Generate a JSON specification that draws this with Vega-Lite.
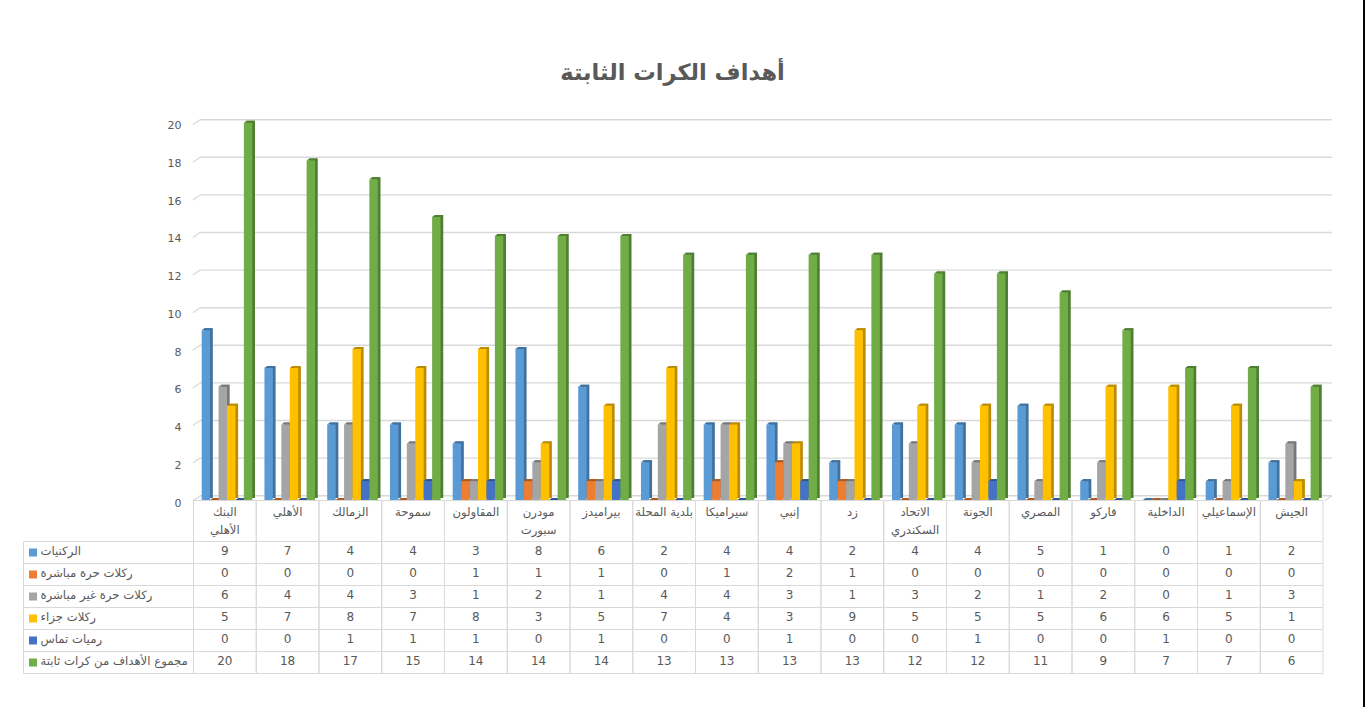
{"$schema":"https://vega.github.io/schema/vega-lite/v6.json","width":1365,"height":707,"padding":0,"autosize":{"type":"none"},"background":"#ffffff","config":{"view":{"stroke":null},"font":"DejaVu Sans"},
"title":{"text":"أهداف الكرات الثابتة","font":"DejaVu Sans","fontSize":22.5,"fontWeight":"bold","color":"#595959","anchor":"middle","frame":"group","dx":-10,"offset":-85},
"datasets":{
"ticks":[{"tick":0},{"tick":2},{"tick":4},{"tick":6},{"tick":8},{"tick":10},{"tick":12},{"tick":14},{"tick":16},{"tick":18},{"tick":20}],
"teams":[{"team":"البنك الأهلي"},{"team":"الأهلي"},{"team":"الزمالك"},{"team":"سموحة"},{"team":"المقاولون"},{"team":"مودرن سبورت"},{"team":"بيراميدز"},{"team":"بلدية المحلة"},{"team":"سيراميكا"},{"team":"إنبي"},{"team":"زد"},{"team":"الاتحاد السكندري"},{"team":"الجونة"},{"team":"المصري"},{"team":"فاركو"},{"team":"الداخلية"},{"team":"الإسماعيلي"},{"team":"الجيش"}],
"types":[{"type":"الركنيات"},{"type":"ركلات حرة مباشرة"},{"type":"ركلات حرة غير مباشرة"},{"type":"ركلات جزاء"},{"type":"رميات تماس"},{"type":"مجموع الأهداف من كرات ثابتة"}],
"goals":[
{"team":"البنك الأهلي","type":"الركنيات","goals":9},{"team":"البنك الأهلي","type":"ركلات حرة مباشرة","goals":0},{"team":"البنك الأهلي","type":"ركلات حرة غير مباشرة","goals":6},{"team":"البنك الأهلي","type":"ركلات جزاء","goals":5},{"team":"البنك الأهلي","type":"رميات تماس","goals":0},{"team":"البنك الأهلي","type":"مجموع الأهداف من كرات ثابتة","goals":20},
{"team":"الأهلي","type":"الركنيات","goals":7},{"team":"الأهلي","type":"ركلات حرة مباشرة","goals":0},{"team":"الأهلي","type":"ركلات حرة غير مباشرة","goals":4},{"team":"الأهلي","type":"ركلات جزاء","goals":7},{"team":"الأهلي","type":"رميات تماس","goals":0},{"team":"الأهلي","type":"مجموع الأهداف من كرات ثابتة","goals":18},
{"team":"الزمالك","type":"الركنيات","goals":4},{"team":"الزمالك","type":"ركلات حرة مباشرة","goals":0},{"team":"الزمالك","type":"ركلات حرة غير مباشرة","goals":4},{"team":"الزمالك","type":"ركلات جزاء","goals":8},{"team":"الزمالك","type":"رميات تماس","goals":1},{"team":"الزمالك","type":"مجموع الأهداف من كرات ثابتة","goals":17},
{"team":"سموحة","type":"الركنيات","goals":4},{"team":"سموحة","type":"ركلات حرة مباشرة","goals":0},{"team":"سموحة","type":"ركلات حرة غير مباشرة","goals":3},{"team":"سموحة","type":"ركلات جزاء","goals":7},{"team":"سموحة","type":"رميات تماس","goals":1},{"team":"سموحة","type":"مجموع الأهداف من كرات ثابتة","goals":15},
{"team":"المقاولون","type":"الركنيات","goals":3},{"team":"المقاولون","type":"ركلات حرة مباشرة","goals":1},{"team":"المقاولون","type":"ركلات حرة غير مباشرة","goals":1},{"team":"المقاولون","type":"ركلات جزاء","goals":8},{"team":"المقاولون","type":"رميات تماس","goals":1},{"team":"المقاولون","type":"مجموع الأهداف من كرات ثابتة","goals":14},
{"team":"مودرن سبورت","type":"الركنيات","goals":8},{"team":"مودرن سبورت","type":"ركلات حرة مباشرة","goals":1},{"team":"مودرن سبورت","type":"ركلات حرة غير مباشرة","goals":2},{"team":"مودرن سبورت","type":"ركلات جزاء","goals":3},{"team":"مودرن سبورت","type":"رميات تماس","goals":0},{"team":"مودرن سبورت","type":"مجموع الأهداف من كرات ثابتة","goals":14},
{"team":"بيراميدز","type":"الركنيات","goals":6},{"team":"بيراميدز","type":"ركلات حرة مباشرة","goals":1},{"team":"بيراميدز","type":"ركلات حرة غير مباشرة","goals":1},{"team":"بيراميدز","type":"ركلات جزاء","goals":5},{"team":"بيراميدز","type":"رميات تماس","goals":1},{"team":"بيراميدز","type":"مجموع الأهداف من كرات ثابتة","goals":14},
{"team":"بلدية المحلة","type":"الركنيات","goals":2},{"team":"بلدية المحلة","type":"ركلات حرة مباشرة","goals":0},{"team":"بلدية المحلة","type":"ركلات حرة غير مباشرة","goals":4},{"team":"بلدية المحلة","type":"ركلات جزاء","goals":7},{"team":"بلدية المحلة","type":"رميات تماس","goals":0},{"team":"بلدية المحلة","type":"مجموع الأهداف من كرات ثابتة","goals":13},
{"team":"سيراميكا","type":"الركنيات","goals":4},{"team":"سيراميكا","type":"ركلات حرة مباشرة","goals":1},{"team":"سيراميكا","type":"ركلات حرة غير مباشرة","goals":4},{"team":"سيراميكا","type":"ركلات جزاء","goals":4},{"team":"سيراميكا","type":"رميات تماس","goals":0},{"team":"سيراميكا","type":"مجموع الأهداف من كرات ثابتة","goals":13},
{"team":"إنبي","type":"الركنيات","goals":4},{"team":"إنبي","type":"ركلات حرة مباشرة","goals":2},{"team":"إنبي","type":"ركلات حرة غير مباشرة","goals":3},{"team":"إنبي","type":"ركلات جزاء","goals":3},{"team":"إنبي","type":"رميات تماس","goals":1},{"team":"إنبي","type":"مجموع الأهداف من كرات ثابتة","goals":13},
{"team":"زد","type":"الركنيات","goals":2},{"team":"زد","type":"ركلات حرة مباشرة","goals":1},{"team":"زد","type":"ركلات حرة غير مباشرة","goals":1},{"team":"زد","type":"ركلات جزاء","goals":9},{"team":"زد","type":"رميات تماس","goals":0},{"team":"زد","type":"مجموع الأهداف من كرات ثابتة","goals":13},
{"team":"الاتحاد السكندري","type":"الركنيات","goals":4},{"team":"الاتحاد السكندري","type":"ركلات حرة مباشرة","goals":0},{"team":"الاتحاد السكندري","type":"ركلات حرة غير مباشرة","goals":3},{"team":"الاتحاد السكندري","type":"ركلات جزاء","goals":5},{"team":"الاتحاد السكندري","type":"رميات تماس","goals":0},{"team":"الاتحاد السكندري","type":"مجموع الأهداف من كرات ثابتة","goals":12},
{"team":"الجونة","type":"الركنيات","goals":4},{"team":"الجونة","type":"ركلات حرة مباشرة","goals":0},{"team":"الجونة","type":"ركلات حرة غير مباشرة","goals":2},{"team":"الجونة","type":"ركلات جزاء","goals":5},{"team":"الجونة","type":"رميات تماس","goals":1},{"team":"الجونة","type":"مجموع الأهداف من كرات ثابتة","goals":12},
{"team":"المصري","type":"الركنيات","goals":5},{"team":"المصري","type":"ركلات حرة مباشرة","goals":0},{"team":"المصري","type":"ركلات حرة غير مباشرة","goals":1},{"team":"المصري","type":"ركلات جزاء","goals":5},{"team":"المصري","type":"رميات تماس","goals":0},{"team":"المصري","type":"مجموع الأهداف من كرات ثابتة","goals":11},
{"team":"فاركو","type":"الركنيات","goals":1},{"team":"فاركو","type":"ركلات حرة مباشرة","goals":0},{"team":"فاركو","type":"ركلات حرة غير مباشرة","goals":2},{"team":"فاركو","type":"ركلات جزاء","goals":6},{"team":"فاركو","type":"رميات تماس","goals":0},{"team":"فاركو","type":"مجموع الأهداف من كرات ثابتة","goals":9},
{"team":"الداخلية","type":"الركنيات","goals":0},{"team":"الداخلية","type":"ركلات حرة مباشرة","goals":0},{"team":"الداخلية","type":"ركلات حرة غير مباشرة","goals":0},{"team":"الداخلية","type":"ركلات جزاء","goals":6},{"team":"الداخلية","type":"رميات تماس","goals":1},{"team":"الداخلية","type":"مجموع الأهداف من كرات ثابتة","goals":7},
{"team":"الإسماعيلي","type":"الركنيات","goals":1},{"team":"الإسماعيلي","type":"ركلات حرة مباشرة","goals":0},{"team":"الإسماعيلي","type":"ركلات حرة غير مباشرة","goals":1},{"team":"الإسماعيلي","type":"ركلات جزاء","goals":5},{"team":"الإسماعيلي","type":"رميات تماس","goals":0},{"team":"الإسماعيلي","type":"مجموع الأهداف من كرات ثابتة","goals":7},
{"team":"الجيش","type":"الركنيات","goals":2},{"team":"الجيش","type":"ركلات حرة مباشرة","goals":0},{"team":"الجيش","type":"ركلات حرة غير مباشرة","goals":3},{"team":"الجيش","type":"ركلات جزاء","goals":1},{"team":"الجيش","type":"رميات تماس","goals":0},{"team":"الجيش","type":"مجموع الأهداف من كرات ثابتة","goals":6}
]},
"resolve":{"scale":{"x":"independent","y":"independent","color":"independent"},"axis":{"x":"independent","y":"independent"}},
"layer":[
{"data":{"name":"ticks"},
 "layer":[
  {"mark":{"type":"rule","color":"#D9D9D9","strokeWidth":1.4},
   "encoding":{"x":{"datum":0,"type":"quantitative","scale":{"domain":[0,1],"range":[200,1332],"nice":false},"axis":null},"x2":{"datum":1},"y":{"field":"tick","type":"quantitative","scale":{"domain":[0,20],"range":[495.7,119.7],"nice":false},"axis":null}}},
  {"mark":{"type":"point","shape":"M-1,0.69L1,-0.69","size":52,"filled":false,"stroke":"#D9D9D9","strokeWidth":1.2,"opacity":1,"yOffset":2.5},
   "encoding":{"x":{"datum":-0.0031,"type":"quantitative"},"y":{"field":"tick","type":"quantitative"}}},
  {"transform":[{"filter":"datum.tick==0"}],"mark":{"type":"point","shape":"M-1,0.69L1,-0.69","size":52,"filled":false,"stroke":"#D9D9D9","strokeWidth":1.2,"opacity":1,"yOffset":2.5},
   "encoding":{"x":{"datum":0.9968,"type":"quantitative"},"y":{"field":"tick","type":"quantitative"}}},
  {"transform":[{"filter":"datum.tick==0"}],"mark":{"type":"rule","color":"#000000","strokeWidth":2},
   "encoding":{"x":{"datum":1.0283,"type":"quantitative"}}}
 ]},
{"data":{"name":"teams"},
 "mark":{"type":"rect","fill":"transparent","stroke":"#D9D9D9","strokeWidth":1},
 "encoding":{
  "x":{"field":"team","type":"nominal","sort":null,"scale":{"range":[193.5,1323],"paddingInner":0,"paddingOuter":0},
   "axis":{"orient":"bottom","offset":-207,"title":null,"domain":false,"ticks":false,"labelPadding":6,"labelAngle":0,"labelFont":"DejaVu Sans","labelFontSize":11.7,"labelColor":"#595959","labelLimit":80,"labelOverlap":false,"labelLineHeight":18,"labelExpr":"datum.label=='بلدية المحلة'?datum.label:split(datum.label,' ')"}},
  "y":{"datum":0,"type":"quantitative","scale":{"domain":[0,1],"range":[500.5,541.5],"nice":false},"axis":null},"y2":{"datum":1}}},
{"data":{"name":"types"},
 "layer":[
  {"mark":{"type":"rect","fill":"transparent","stroke":"#D9D9D9","strokeWidth":1},
   "encoding":{
    "x":{"datum":0,"type":"quantitative","scale":{"domain":[0,170],"range":[23.5,193.5],"nice":false},"axis":null},"x2":{"datum":170},
    "y":{"field":"type","type":"nominal","sort":null,"scale":{"range":[541.5,673.5],"paddingInner":0,"paddingOuter":0},
     "axis":{"orient":"left","offset":-40,"title":null,"domain":false,"ticks":false,"labelPadding":0,"labelAlign":"left","labelOffset":-2,"labelFont":"DejaVu Sans","labelFontSize":11.7,"labelColor":"#595959","labelLimit":160}}}},
  {"mark":{"type":"point","shape":"square","filled":true,"size":64,"opacity":1},
   "encoding":{
    "x":{"datum":9.5,"type":"quantitative"},
    "y":{"field":"type","type":"nominal","sort":null},
    "color":{"field":"type","type":"nominal","sort":null,"legend":null,"scale":{"range":["#5B9BD5","#ED7D31","#A5A5A5","#FFC000","#4472C4","#70AD47"]}}}}
 ]},
{"data":{"name":"goals"},
 "layer":[
  {"mark":{"type":"rect","fill":"transparent","stroke":"#D9D9D9","strokeWidth":1},
   "encoding":{
    "x":{"field":"team","type":"nominal","sort":null,"scale":{"range":[193.5,1323],"paddingInner":0,"paddingOuter":0},"axis":null},
    "y":{"field":"type","type":"nominal","sort":null,"scale":{"range":[541.5,673.5],"paddingInner":0,"paddingOuter":0},"axis":null}}},
  {"mark":{"type":"text","font":"DejaVu Sans","fontSize":12,"fill":"#595959","dy":-1.5},
   "encoding":{
    "x":{"field":"team","type":"nominal","sort":null},
    "y":{"field":"type","type":"nominal","sort":null},
    "text":{"field":"goals","type":"quantitative"}}}
 ]},
{"data":{"name":"goals"},
 "mark":{"type":"bar"},
 "encoding":{
  "x":{"field":"team","type":"nominal","sort":null,"scale":{"range":[196.2,1325.7],"paddingInner":0,"paddingOuter":0},"axis":null},
  "xOffset":{"field":"type","type":"nominal","sort":null,"scale":{"range":[8.2,58.8],"paddingInner":0,"paddingOuter":0}},
  "y":{"field":"goals","type":"quantitative","stack":null,"scale":{"domain":[0,20],"range":[498,120.7],"nice":false},"axis":null},
  "color":{"field":"type","type":"nominal","sort":null,"legend":null,"scale":{"range":["#41719C","#AE5A21","#787878","#BC8C00","#2F5597","#507E32"]}}}},
{"data":{"name":"goals"},
 "encoding":{
  "x":{"field":"team","type":"nominal","sort":null,"scale":{"range":[193.5,1323],"paddingInner":0,"paddingOuter":0},"axis":null},
  "xOffset":{"field":"type","type":"nominal","sort":null,"scale":{"range":[8.2,58.8],"paddingInner":0,"paddingOuter":0}},
  "y":{"field":"goals","type":"quantitative","stack":null,"scale":{"domain":[0,20],"range":[500,122.7],"nice":false},
   "axis":{"orient":"left","offset":-186,"title":null,"values":[0,2,4,6,8,10,12,14,16,18,20],"domain":false,"ticks":false,"grid":false,"labelPadding":5,"labelOffset":3,"labelFont":"DejaVu Sans","labelFontSize":11,"labelColor":"#595959"}}},
 "resolve":{"scale":{"color":"independent"}},
 "layer":[
  {"mark":{"type":"point","shape":"M-0.674,0L0.674,0L1.1,-0.32L-0.25,-0.32Z","size":156,"filled":true,"opacity":1},
   "encoding":{"color":{"field":"type","type":"nominal","sort":null,"legend":null,"scale":{"range":["#41719C","#AE5A21","#787878","#BC8C00","#2F5597","#507E32"]}}}},
  {"mark":{"type":"bar"},
   "encoding":{"color":{"field":"type","type":"nominal","sort":null,"legend":null,"scale":{"range":["#5B9BD5","#ED7D31","#A5A5A5","#FFC000","#4472C4","#70AD47"]}}}}
 ]}
]}
